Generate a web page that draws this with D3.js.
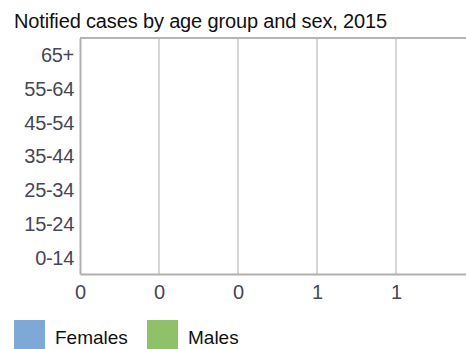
<!DOCTYPE html>
<head>
<meta charset="utf-8">
<script src="https://d3js.org/d3.v7.min.js"></script>
<style>
body { margin:0; background:#fff; }
text { font-family: "Liberation Sans", Arial, sans-serif; }
</style>
</head>
<body>
<div id="chart"></div>
<script>
// age groups, top to bottom
var ageGroups = ["65+", "55-64", "45-54", "35-44", "25-34", "15-24", "0-14"];
// notified cases (no cases reported)
var females = [0, 0, 0, 0, 0, 0, 0];
var males = [0, 0, 0, 0, 0, 0, 0];
var xTicks = [0, 0.2, 0.4, 0.6, 0.8];
var seriesNames = ["Females", "Males"];
var seriesColors = ["#7ea9d6", "#8fc16b"];

var W = 466, H = 349;
var margin = {top: 38, right: -9, bottom: 75, left: 80};
var width = W - margin.left - margin.right,
    height = H - margin.top - margin.bottom;

var svg = d3.select("#chart").append("svg")
    .attr("width", W).attr("height", H);

svg.append("text")
    .attr("x", 14).attr("y", 28)
    .style("font-size", "20px")
    .style("letter-spacing", "-0.15px")
    .attr("fill", "#111")
    .text("Notified cases by age group and sex, 2015");

var g = svg.append("g")
    .attr("transform", "translate(" + margin.left + "," + margin.top + ")");

var x = d3.scaleLinear().domain([0, 1]).range([0, width]);
var y = d3.scaleBand().domain(ageGroups).range([0, height]);
var ySub = d3.scaleBand().domain(seriesNames).range([0, y.bandwidth()]).padding(0.1);

// gridlines
g.selectAll(".grid").data(xTicks.slice(1))
  .enter().append("line")
    .attr("x1", function(d) { return x(d); })
    .attr("x2", function(d) { return x(d); })
    .attr("y1", 0).attr("y2", height)
    .attr("stroke", "#d6d6d6").attr("stroke-width", 2);

// top border
g.append("line")
    .attr("x1", 0).attr("x2", width)
    .attr("y1", 0).attr("y2", 0)
    .attr("stroke", "#b4b4b4").attr("stroke-width", 2);

// bars
var data = [];
ageGroups.forEach(function(a, i) {
  data.push({age: a, sex: "Females", value: females[i]});
  data.push({age: a, sex: "Males", value: males[i]});
});
g.selectAll(".bar").data(data)
  .enter().append("rect")
    .attr("x", 0)
    .attr("y", function(d) { return y(d.age) + ySub(d.sex); })
    .attr("height", ySub.bandwidth())
    .attr("width", function(d) { return x(d.value); })
    .attr("fill", function(d) { return seriesColors[seriesNames.indexOf(d.sex)]; });

// axes
var xAxis = g.append("g")
    .attr("transform", "translate(0," + height + ")")
    .call(d3.axisBottom(x).tickValues(xTicks).tickFormat(d3.format(".0f")).tickSize(0).tickPadding(11));
var yAxis = g.append("g")
    .attr("transform", "translate(0,1)")
    .call(d3.axisLeft(y).tickSize(0).tickPadding(6));

[xAxis, yAxis].forEach(function(a) {
  a.select(".domain").attr("stroke", "#b0b0b0").attr("stroke-width", 2);
  a.selectAll("text").style("font-size", "20px").attr("fill", "#474756")
    .style("letter-spacing", "-0.3px")
    .style("font-family", "Liberation Sans, Arial, sans-serif");
});
yAxis.select(".domain").attr("transform", "translate(0,-1)");

// legend
var legend = svg.selectAll(".legend").data(seriesNames)
  .enter().append("g")
    .attr("transform", function(d, i) { return "translate(" + (14 + i * 133) + ",320)"; });
legend.append("rect")
    .attr("width", 31).attr("height", 29)
    .attr("fill", function(d, i) { return seriesColors[i]; });
legend.append("text")
    .attr("x", 41).attr("y", 24)
    .style("font-size", "19px")
    .attr("fill", "#111")
    .text(function(d) { return d; });
</script>
</body>
</html>
